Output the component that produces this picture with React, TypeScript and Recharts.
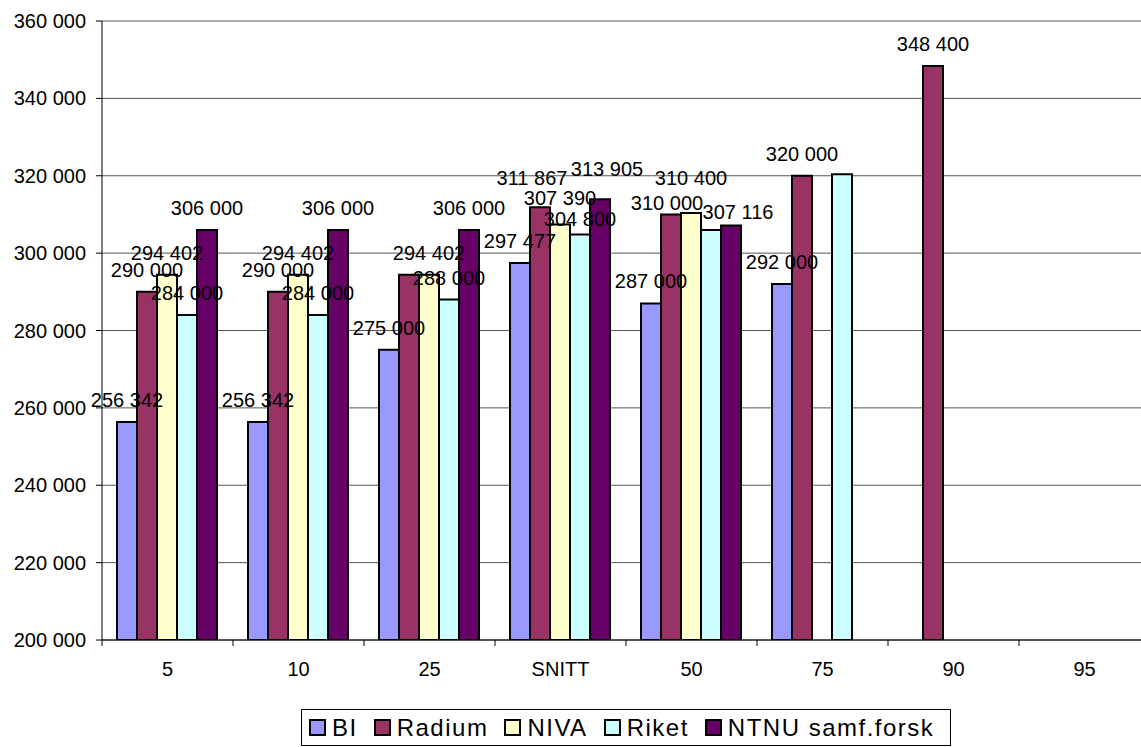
import React from 'react';
import { BarChart, Bar, XAxis, YAxis, CartesianGrid, Legend, LabelList } from 'recharts';

const categories = ['5', '10', '25', 'SNITT', '50', '75', '90', '95'];

const bi = [256342, 256342, 275000, 297477, 287000, 292000, null, null];
const radium = [290000, 290000, 294402, 311867, 310000, 320000, 348400, null];
const niva = [294402, 294402, 294402, 307390, 310400, null, null, null];
const riket = [284000, 284000, 288000, 304800, 306000, 320400, null, null];
const ntnu = [306000, 306000, 306000, 313905, 307116, null, null, null];

const yTicks = [200000, 220000, 240000, 260000, 280000, 300000, 320000, 340000, 360000];

// labels that are not shown in the original (series key + category)
const hiddenLabels = [
  ['radium', '25'],
  ['riket', '50'],
  ['riket', '75'],
];

// hand-moved labels in the original: [dx, dy] from the default spot
const labelNudges: Record<string, [number, number]> = {
  'radium|SNITT': [-8, -7],
  'niva|SNITT': [0, -5],
  'riket|SNITT': [0, 6],
  'ntnu|SNITT': [7, -8],
  'radium|50': [-4, 11],
  'niva|50': [0, -13],
  'ntnu|50': [7, 8],
};

const SERIES = [
  { key: 'bi', name: 'BI', color: '#9999FF' },
  { key: 'radium', name: 'Radium', color: '#993366' },
  { key: 'niva', name: 'NIVA', color: '#FFFFCC' },
  { key: 'riket', name: 'Riket', color: '#CCFFFF' },
  { key: 'ntnu', name: 'NTNU samf.forsk', color: '#660066' },
];

const data = categories.map((cat, i) => ({
  cat,
  bi: bi[i],
  radium: radium[i],
  niva: niva[i],
  riket: riket[i],
  ntnu: ntnu[i],
}));

const FONT = '"Liberation Sans", Arial, sans-serif';
const CHART_W = 1150;
const CHART_H = 747;
const Y_AXIS_W = 102;
const BAND = (CHART_W - Y_AXIS_W) / categories.length;

const fmt = (v: number) => String(Math.round(v)).replace(/\B(?=(\d{3})+(?!\d))/g, ' ');

const CategoryTick = (props: any) => {
  const { x, y, payload } = props;
  const axisY = y - 22;
  return (
    <g>
      <line x1={x - BAND / 2} y1={axisY} x2={x - BAND / 2} y2={axisY + 6} stroke="#000" />
      <text x={x} y={y} dy="0.71em" textAnchor="middle" fontSize={20} fontFamily={FONT} fill="#000">
        {payload.value}
      </text>
    </g>
  );
};

const makeLabel = (seriesKey: string) => (props: any) => {
  const { x, y, width, value, index } = props;
  if (value == null) return null;
  const cat = categories[index];
  if (hiddenLabels.some(([s, c]) => s === seriesKey && c === cat)) return null;
  const [dx, dy] = labelNudges[`${seriesKey}|${cat}`] || [0, 0];
  return (
    <text x={x + width / 2 + dx} y={y - 15 + dy} textAnchor="middle" fontSize={20} fontFamily={FONT} fill="#000">
      {fmt(value)}
    </text>
  );
};

const LegendBox = () => (
  <div
    style={{
      display: 'flex',
      alignItems: 'center',
      height: '100%',
      boxSizing: 'border-box',
      border: '1px solid #000',
      paddingLeft: 7,
      fontFamily: FONT,
      fontSize: 24,
      letterSpacing: 1.5,
      whiteSpace: 'nowrap',
      background: '#fff',
    }}
  >
    {SERIES.map((s, i) => (
      <div key={s.key} style={{ display: 'flex', alignItems: 'center', marginLeft: i === 0 ? 0 : 16 }}>
        <span
          style={{
            width: 17,
            height: 17,
            boxSizing: 'border-box',
            border: '2px solid #000',
            background: s.color,
            marginRight: 6,
          }}
        />
        <span>{s.name}</span>
      </div>
    ))}
  </div>
);

export default function App() {
  return (
    <div style={{ position: 'absolute', left: 0, top: 0, width: 1141, height: 747, overflow: 'hidden', background: '#fff' }}>
      <BarChart
        width={CHART_W}
        height={CHART_H}
        data={data}
        margin={{ top: 21, right: 0, left: 0, bottom: 47 }}
        barCategoryGap={15}
        barGap={0}
      >
        <CartesianGrid vertical={false} stroke="#555" />
        <XAxis
          dataKey="cat"
          height={60}
          axisLine={{ stroke: '#000' }}
          tickLine={false}
          tickSize={0}
          tickMargin={22}
          interval={0}
          tick={<CategoryTick />}
        />
        <YAxis
          width={Y_AXIS_W}
          domain={[200000, 360000]}
          ticks={yTicks}
          allowDataOverflow
          axisLine={{ stroke: '#000' }}
          tickLine={{ stroke: '#000' }}
          tickSize={6}
          tickMargin={10}
          tickFormatter={fmt}
          tick={{ fill: '#000', fontSize: 20, fontFamily: FONT }}
        />
        <Legend
          layout="horizontal"
          verticalAlign="middle"
          align="center"
          content={<LegendBox />}
          wrapperStyle={{ left: 301, top: 709, width: 650, height: 37 }}
        />
        {SERIES.map((s) => (
          <Bar key={s.key} dataKey={s.key} name={s.name} fill={s.color} stroke="#000" strokeWidth={2} isAnimationActive={false}>
            <LabelList dataKey={s.key} content={makeLabel(s.key)} />
          </Bar>
        ))}
      </BarChart>
    </div>
  );
}
